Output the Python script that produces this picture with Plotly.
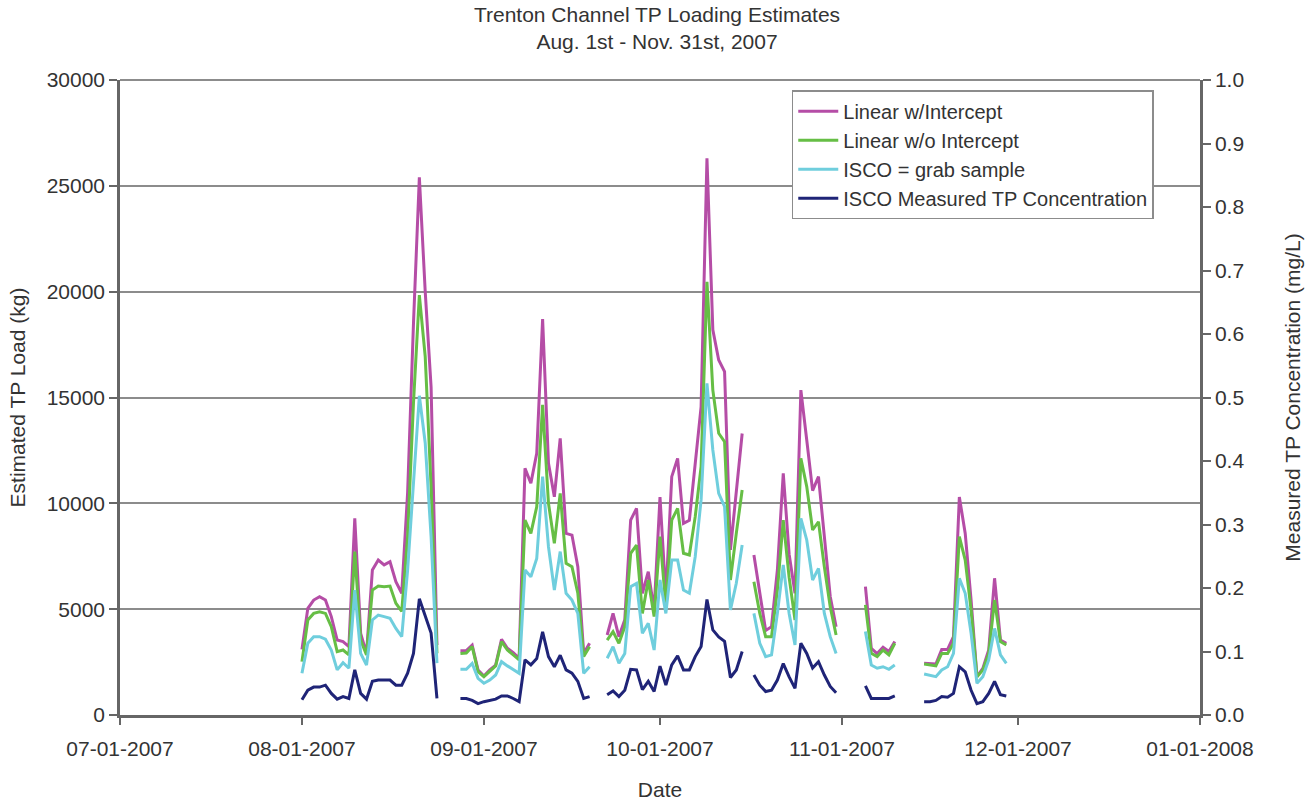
import datetime as dt
import plotly.graph_objects as go

# ---- data -------------------------------------------------------------
# start date of each run of consecutive daily values (gaps in between)
SEG_STARTS = ["2007-08-01", "2007-08-28", "2007-09-22", "2007-10-17", "2007-11-05", "2007-11-15"]

LINEAR_W_INTERCEPT = [
    [3100, 5040, 5430, 5590, 5430, 4650, 3540, 3470, 3230, 9290, 3860, 2910,
     6850, 7320, 7090, 7240, 6300, 5750, 10500, 18500, 25400, 20000, 15500, 3300],
    [3040, 3040, 3300, 2130, 1840, 2130, 2360, 3580, 3150, 2950, 2680, 11650,
     10950, 12360, 18700, 11890, 10310, 13070, 8580, 8500, 7010, 2910, 3390],
    [3780, 4800, 3700, 4500, 9210, 9760, 5750, 6770, 4960, 10300, 5590, 11260,
     12120, 9050, 9200, 11730, 14560, 26300, 18200, 16770, 16220, 7800, 10500, 13300],
    [7560, 5750, 3990, 4170, 6850, 11420, 7600, 5750, 15350, 12990, 10600, 11260,
     8580, 5600, 4170],
    [6060, 3150, 2900, 3200, 3000, 3470],
    [2440, 2430, 2410, 3100, 3100, 3700, 10300, 8580, 5430, 1810, 2200, 3070,
     6460, 3540, 3390],
]

LINEAR_WO_INTERCEPT = [
    [2520, 4490, 4800, 4880, 4800, 4170, 2990, 3070, 2840, 7720, 3540, 2840,
     5900, 6090, 6060, 6090, 5280, 4900, 8420, 14740, 19840, 16930, 10790, 2920],
    [2910, 2930, 3230, 2050, 1810, 2050, 2320, 3470, 3070, 2840, 2600, 9210,
     8580, 9840, 14650, 10000, 8110, 10470, 7170, 7010, 5750, 2760, 3230],
    [3540, 3940, 3390, 4170, 7640, 8030, 4800, 6380, 4650, 8430, 5120, 9210,
     9760, 7640, 7560, 9370, 11730, 20470, 15350, 13310, 12910, 6380, 8580, 10630],
    [6300, 4800, 3700, 3700, 5900, 9210, 6500, 4490, 12130, 10790, 8740, 9130,
     7000, 5120, 3780],
    [5200, 2910, 2760, 3070, 2840, 3390],
    [2410, 2360, 2320, 2910, 2910, 3390, 8430, 7320, 4960, 1810, 2130, 2910,
     5430, 3470, 3310],
]

ISCO_GRAB = [
    [1970, 3390, 3700, 3700, 3580, 3070, 2130, 2470, 2210, 5900, 2910, 2360,
     4490, 4720, 4650, 4570, 4090, 3700, 6850, 10790, 15080, 12850, 8420, 2450],
    [2160, 2160, 2440, 1730, 1500, 1650, 1890, 2520, 2320, 2130, 1970, 6850,
     6530, 7400, 11260, 7950, 5900, 7720, 5750, 5430, 4800, 1970, 2280],
    [2680, 3230, 2440, 2910, 6060, 6220, 3860, 4330, 3070, 6380, 4800, 7320,
     7320, 5900, 5750, 7480, 10160, 15670, 12520, 10470, 9840, 4960, 6220, 8030],
    [4800, 3390, 2760, 2840, 4800, 7090, 4800, 3310, 9290, 8270, 6380, 6930,
     4800, 3700, 2910],
    [3940, 2360, 2210, 2280, 2160, 2360],
    [1940, 1890, 1810, 2130, 2280, 2910, 6460, 5750, 3860, 1500, 1810, 2600,
     4090, 2840, 2440],
]

# measured concentration, mg/L (right axis)
ISCO_CONC = [
    [0.024, 0.039, 0.044, 0.044, 0.047, 0.034, 0.025, 0.029, 0.026, 0.071, 0.034, 0.025,
     0.053, 0.055, 0.055, 0.055, 0.047, 0.047, 0.066, 0.097, 0.183, 0.155, 0.129, 0.026],
    [0.026, 0.026, 0.023, 0.018, 0.021, 0.023, 0.025, 0.030, 0.030, 0.026, 0.021, 0.087,
     0.079, 0.089, 0.131, 0.092, 0.076, 0.094, 0.071, 0.066, 0.053, 0.026, 0.029],
    [0.032, 0.038, 0.029, 0.039, 0.072, 0.071, 0.040, 0.053, 0.037, 0.077, 0.047, 0.079,
     0.093, 0.071, 0.071, 0.092, 0.108, 0.182, 0.134, 0.123, 0.116, 0.059, 0.071, 0.100],
    [0.063, 0.047, 0.037, 0.039, 0.055, 0.081, 0.060, 0.042, 0.113, 0.097, 0.074, 0.084,
     0.063, 0.045, 0.035],
    [0.046, 0.026, 0.026, 0.026, 0.026, 0.030],
    [0.021, 0.021, 0.023, 0.029, 0.028, 0.034, 0.076, 0.068, 0.039, 0.018, 0.021, 0.034,
     0.053, 0.032, 0.030],
]

SERIES_NAMES = ["Linear w/Intercept", "Linear w/o Intercept", "ISCO = grab sample",
                "ISCO Measured TP Concentration"]
MONTH_TICKS = ["2007-07-01", "2007-08-01", "2007-09-01", "2007-10-01", "2007-11-01",
               "2007-12-01", "2008-01-01"]
TITLE = "Trenton Channel TP Loading Estimates<br>Aug. 1st - Nov. 31st, 2007"

# ---- build gapped daily series ----------------------------------------
def build(segments):
    xs, ys = [], []
    for start, vals in zip(SEG_STARTS, segments):
        d0 = dt.date.fromisoformat(start)
        for i, v in enumerate(vals):
            xs.append(d0 + dt.timedelta(days=i))
            ys.append(v)
        xs.append(d0 + dt.timedelta(days=len(vals)))
        ys.append(None)
    return xs, ys

COLORS = ["#B54DA6", "#66BE45", "#6FCEDD", "#1F2477"]
FONT = "Liberation Sans, Arial, sans-serif"
TXT = "#333333"

fig = go.Figure()
for name, data, col in zip(SERIES_NAMES[:3],
                           [LINEAR_W_INTERCEPT, LINEAR_WO_INTERCEPT, ISCO_GRAB],
                           COLORS[:3]):
    x, y = build(data)
    fig.add_trace(go.Scatter(x=x, y=y, mode="lines", name=name,
                             line=dict(color=col, width=3), connectgaps=False))
x, y = build(ISCO_CONC)
fig.add_trace(go.Scatter(x=x, y=y, mode="lines", name=SERIES_NAMES[3], yaxis="y2",
                         line=dict(color=COLORS[3], width=3), connectgaps=False))

axis_common = dict(ticks="outside", tickcolor="#666666", tickwidth=1.5,
                   tickfont=dict(family=FONT, size=21, color=TXT),
                   showline=True, linecolor="#666666", linewidth=2.5,
                   automargin=False)
title_font = dict(family=FONT, size=21, color=TXT)

fig.update_layout(
    width=1314, height=803,
    margin=dict(l=120, r=114, t=80, b=88, autoexpand=False),
    paper_bgcolor="white", plot_bgcolor="white",
    font=dict(family=FONT, size=20, color=TXT),
    title=dict(text=TITLE, x=0.5, xanchor="center", y=0.973, yanchor="top",
               font=dict(family=FONT, size=21, color=TXT)),
    xaxis=dict(type="date", range=["2007-07-01", "2008-01-01"],
               tickvals=MONTH_TICKS, tickformat="%m-%d-%Y", ticklen=7,
               ticklabelstandoff=6,
               showgrid=False, zeroline=False,
               title=dict(text="Date", font=title_font, standoff=24),
               **axis_common),
    yaxis=dict(range=[0, 30000], dtick=5000, ticklen=8, tickformat="d",
               showgrid=True, gridcolor="#8c8c8c", gridwidth=1.5, zeroline=False,
               title=dict(text="Estimated TP Load (kg)", font=title_font, standoff=16),
               **axis_common),
    yaxis2=dict(range=[0, 1.0], dtick=0.1, tickformat=".1f", ticklen=8,
                overlaying="y", side="right", showgrid=False, zeroline=False,
                title=dict(text="Measured TP Concentration (mg/L)", font=title_font,
                           standoff=42),
                **axis_common),
    legend=dict(x=0.622, xanchor="left", y=0.984, yanchor="top",
                bgcolor="white", bordercolor="#8c8c8c", borderwidth=1.5,
                font=dict(family=FONT, size=20, color=TXT),
                tracegroupgap=0, itemwidth=40),
    showlegend=True,
)
# top border of plot area
fig.add_shape(type="line", xref="paper", yref="paper", x0=0, x1=1, y0=1, y1=1,
              line=dict(color="#8c8c8c", width=2))

fig.write_html("out.html")
